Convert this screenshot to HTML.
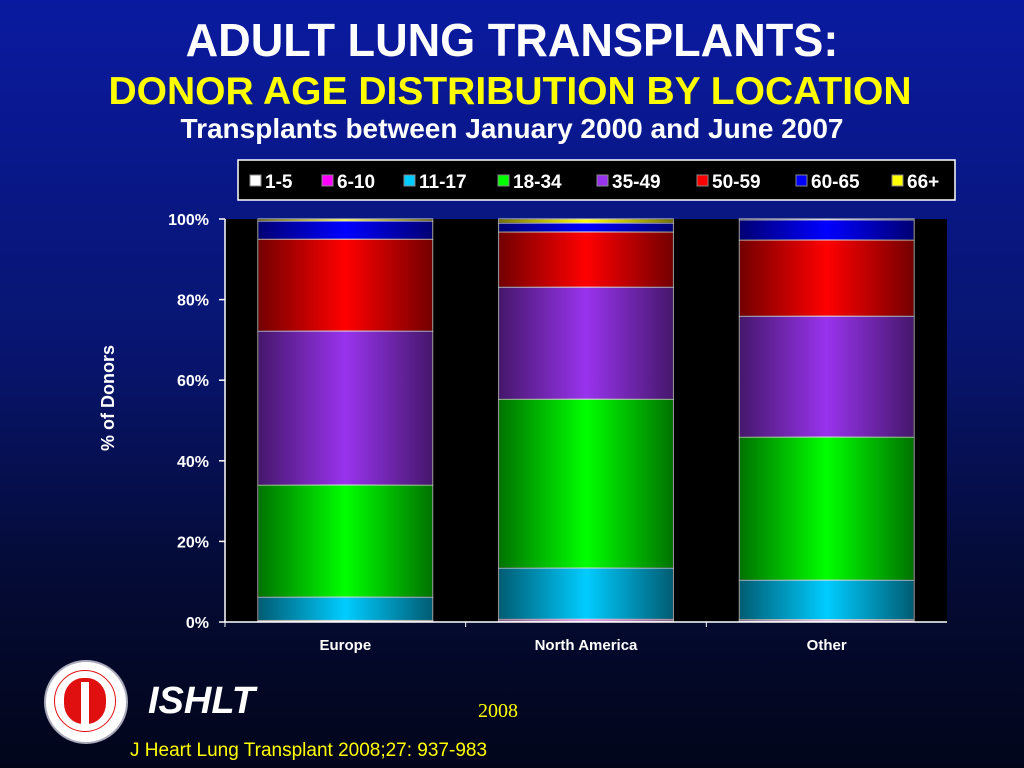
<!DOCTYPE html>
<html><head><meta charset="utf-8"><style>
body{margin:0;width:1024px;height:768px;overflow:hidden;background:linear-gradient(#0a1aa0 0%,#081570 45%,#040b35 75%,#02051a 100%);font-family:"Liberation Sans",sans-serif;position:relative}
.t{position:absolute;left:0;width:1024px;text-align:center;font-weight:bold;white-space:nowrap}
</style></head><body>
<div class="t" style="top:13px;font-size:46px;color:#fff;transform:scaleX(0.98)">ADULT LUNG TRANSPLANTS:</div>
<div class="t" style="top:70px;font-size:39px;color:#ffff00;left:-2px">DONOR AGE DISTRIBUTION BY LOCATION</div>
<div class="t" style="top:113px;font-size:28px;color:#fff">Transplants between January 2000 and June 2007</div>
<svg id="c" width="1024" height="768" style="position:absolute;left:0;top:0">
<defs>
<linearGradient id="g" x1="0" x2="1"><stop offset="0" stop-color="#000" stop-opacity="0.55"/><stop offset="0.5" stop-color="#000" stop-opacity="0"/><stop offset="1" stop-color="#000" stop-opacity="0.55"/></linearGradient>
</defs>
</svg>
<div style="position:absolute;left:44px;top:660px;width:80px;height:80px;border-radius:50%;background:#fff;border:2px solid #aab">
<div style="position:absolute;left:8px;top:8px;width:60px;height:60px;border-radius:50%;border:1px solid #e01010"></div>
<div style="position:absolute;left:18px;top:16px;width:42px;height:46px;border-radius:45%;background:#e01010"></div>
<div style="position:absolute;left:35px;top:20px;width:8px;height:44px;background:#fff"></div></div>
<div style="position:absolute;left:148px;top:680px;font-size:38px;font-weight:bold;font-style:italic;color:#fff">ISHLT</div>
<div style="position:absolute;left:478px;top:700px;font-size:20px;color:#ffff00;font-family:'Liberation Serif',serif">2008</div>
<div style="position:absolute;left:130px;top:740px;font-size:19px;color:#ffff00">J Heart Lung Transplant 2008;27: 937-983</div>
<script>
const categories=["Europe","North America","Other"];
const seriesNames=["1-5","6-10","11-17","18-34","35-49","50-59","60-65","66+"];
const s1_5=[0.3,0.3,0.3];
const s6_10=[0.1,0.4,0.3];
const s11_17=[5.8,12.7,9.8];
const s18_34=[27.8,41.9,35.5];
const s35_49=[38.2,27.8,30.0];
const s50_59=[22.8,13.7,18.9];
const s60_65=[4.5,2.2,5.0];
const s66=[0.5,1.0,0.2];
const yTicks=[0,20,40,60,80,100];
const series=[s1_5,s6_10,s11_17,s18_34,s35_49,s50_59,s60_65,s66];
const colors=["#ffffff","#ff00ff","#00ccff","#00ff00","#9933ee","#ff0000","#0000ff","#ffff00"];
const svg=document.getElementById('c');const NS="http://www.w3.org/2000/svg";
function mk(t,a,txt){const e=document.createElementNS(NS,t);for(const k in a)e.setAttribute(k,a[k]);if(txt!=null)e.textContent=txt;svg.appendChild(e);return e;}
const X0=225,X1=947,Y0=622,Y1=219;
const y=v=>Y0-(v/100)*(Y0-Y1);
const bw=(X1-X0)/categories.length;
let e=mk('rect',{x:X0,y:Y1,width:X1-X0,height:Y0-Y1,fill:'#000'});


yTicks.forEach(t=>{
 let l=mk('line',{x1:X0-6,x2:X0,y1:y(t),y2:y(t),stroke:'#fff','stroke-width':1.5});
 
 
 let tx=mk('text',{x:X0-16,y:y(t)+6,'text-anchor':'end',fill:'#fff','font-size':16,'font-weight':'bold'},t+'%');
 
 
});
categories.forEach((c,i)=>{
 const bx=X0+i*bw+33,w=bw-66;let cum=0;
 series.forEach((s,j)=>{
  const v=s[i];const yt=y(cum+v),yb=y(cum);cum+=v;
  const r=mk('rect',{x:bx,y:yt,width:w,height:yb-yt,fill:colors[j],stroke:'#ddd','stroke-width':1});
  
  
  const o=mk('rect',{x:bx,y:yt,width:w,height:yb-yt,fill:'url(#g)'});
  
  
 });
 const tx=mk('text',{x:X0+i*bw+bw/2,y:650,'text-anchor':'middle',fill:'#fff','font-size':15,'font-weight':'bold'},c);
 
 
 const tk=mk('line',{x1:X0+i*bw,x2:X0+i*bw,y1:Y0,y2:Y0+5,stroke:'#fff'});
 
 
});
let ax=mk('line',{x1:X0,x2:X1,y1:Y0,y2:Y0,stroke:'#fff','stroke-width':1.5});


let ay=mk('line',{x1:X0,x2:X0,y1:Y1,y2:Y0,stroke:'#fff','stroke-width':1.5});


let yt=mk('text',{x:0,y:0,transform:'translate(114,398) rotate(-90)','text-anchor':'middle',fill:'#fff','font-size':18,'font-weight':'bold'},'% of Donors');


let lb=mk('rect',{x:238,y:160,width:717,height:40,fill:'#000',stroke:'#fff','stroke-width':1.5});


const lx=[250,322,404,498,597,697,796,892];
seriesNames.forEach((n,j)=>{
 const sw=mk('rect',{x:lx[j],y:175,width:11,height:11,fill:colors[j],stroke:'#888'});
 
 
 const t=mk('text',{x:lx[j]+15,y:188,fill:'#fff','font-size':19,'font-weight':'bold'},n);
 
 
});
</script>
</body></html>
